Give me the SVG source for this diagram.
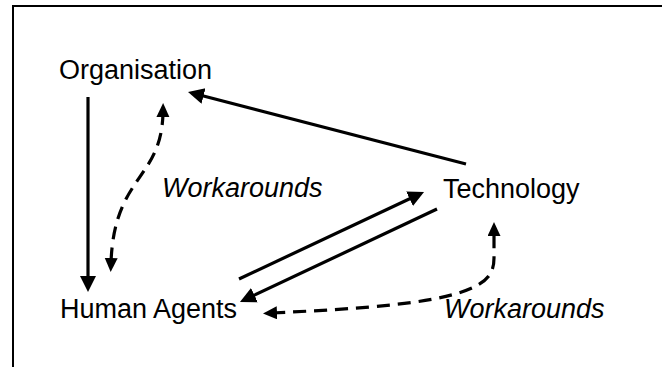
<svg xmlns="http://www.w3.org/2000/svg" width="662" height="367" viewBox="0 0 662 367">
<defs>
<style>
.lbl{font-family:"Liberation Sans",Arial,sans-serif;font-size:27px;fill:#000}
.it{font-style:italic}
.solid{fill:none;stroke:#000;stroke-width:3.2}
.dash{fill:none;stroke:#000;stroke-width:3.2;stroke-dasharray:13 8}
</style>
<marker id="ah" markerUnits="userSpaceOnUse" markerWidth="17" markerHeight="17" refX="6" refY="8" orient="auto"><path d="M0,0 L16,8 L0,16 z" fill="#000"/></marker>
<marker id="dh" markerUnits="userSpaceOnUse" markerWidth="15" markerHeight="14" refX="5" refY="6.5" orient="auto-start-reverse"><path d="M0,0 L14,6.5 L0,13 z" fill="#000"/></marker>
</defs>
<rect width="662" height="367" fill="#fff"/>
<path d="M13,367 L13,6 L662,6" fill="none" stroke="#000" stroke-width="2"/>
<g id="organisation"><text class="lbl" x="59" y="79">Organisation</text></g>
<g id="technology"><text class="lbl" x="443" y="198">Technology</text></g>
<g id="human-agents"><text class="lbl" x="60" y="318">Human Agents</text></g>
<g id="workarounds-1"><text class="lbl it" x="162" y="197">Workarounds</text></g>
<g id="workarounds-2"><text class="lbl it" x="444" y="318">Workarounds</text></g>
<g id="connectors">
<path class="solid" d="M88,97 L88,282" marker-end="url(#ah)"/>
<path class="solid" d="M466,164 L197.7,94.5" marker-end="url(#ah)"/>
<path class="solid" d="M239,279 L415,196.3" marker-end="url(#ah)"/>
<path class="solid" d="M437,209 L249,297.7" marker-end="url(#ah)"/>
<path class="dash" d="M163,112 C162,180 114,175 111,263" marker-start="url(#dh)" marker-end="url(#dh)"/>
<path class="dash" d="M272,313 C400,307 450,300 478,285 C490,278 494,270 494,258 L494,231" marker-start="url(#dh)" marker-end="url(#dh)"/>
</g>
</svg>
